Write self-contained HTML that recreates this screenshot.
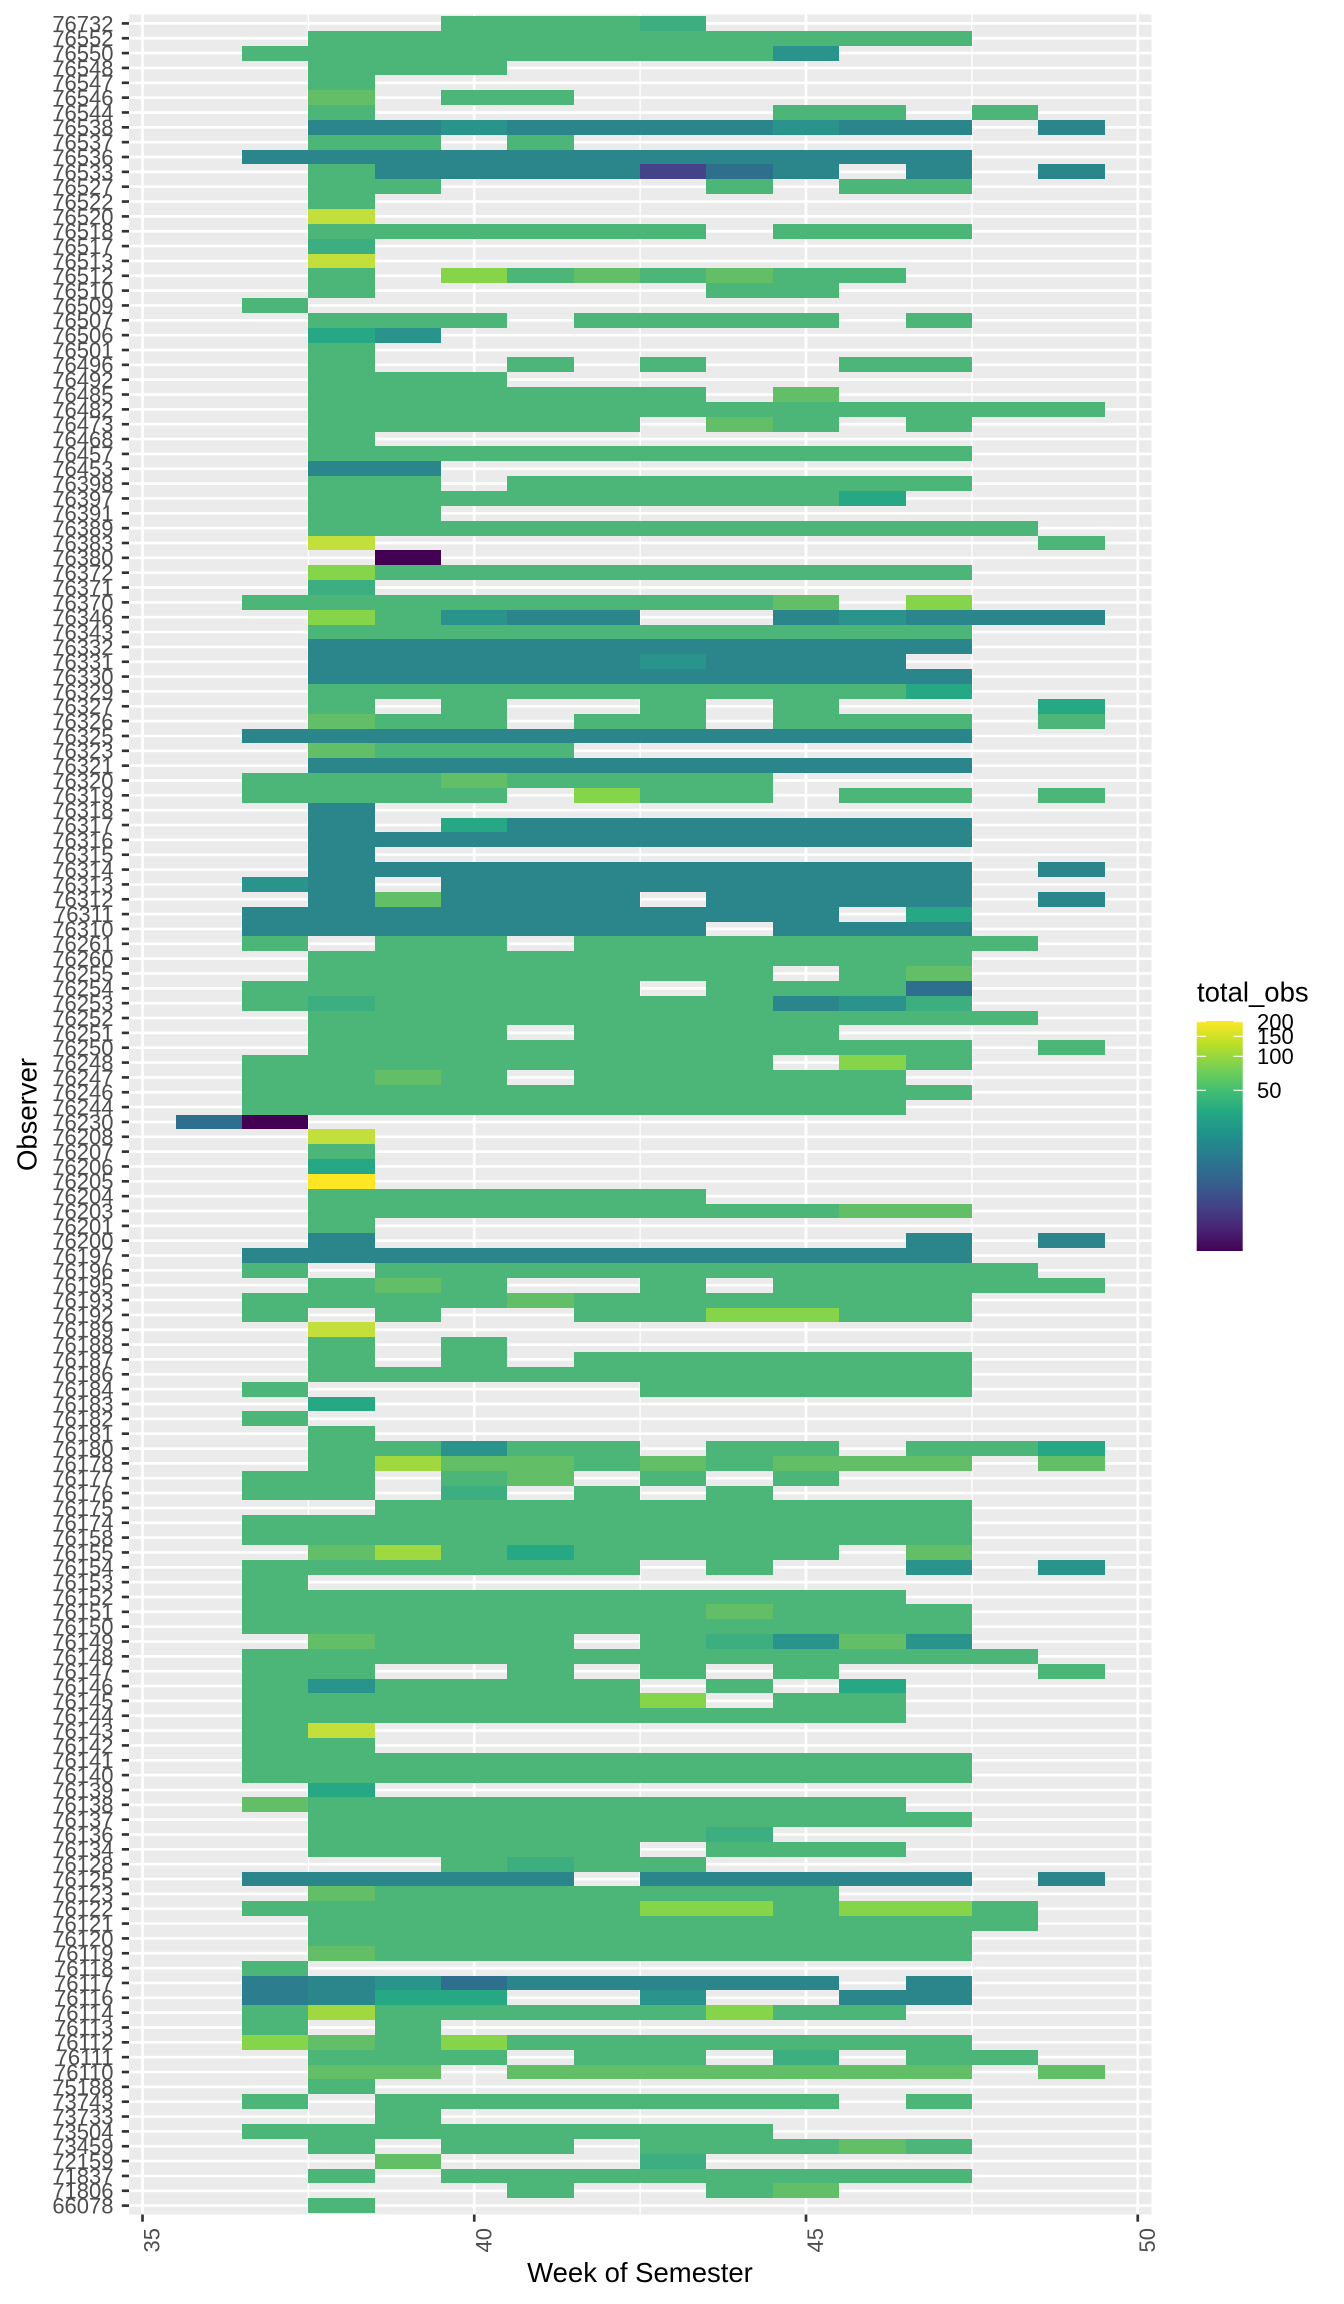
<!DOCTYPE html>
<html>
<head>
<meta charset="utf-8">
<style>
  html, body { margin:0; padding:0; background:#ffffff; }
  body { width:1344px; height:2304px; overflow:hidden; }
  svg { display:block; font-family:"Liberation Sans", Arial, sans-serif; }
</style>
</head>
<body>
<svg id="chart" width="1344" height="2304" viewBox="0 0 1344 2304" xmlns="http://www.w3.org/2000/svg">
  <defs>
    <linearGradient id="vir" x1="0" y1="1" x2="0" y2="0">
      <stop offset="0" stop-color="#440154"/>
      <stop offset="0.1" stop-color="#482576"/>
      <stop offset="0.2" stop-color="#414487"/>
      <stop offset="0.3" stop-color="#35608D"/>
      <stop offset="0.4" stop-color="#2A788E"/>
      <stop offset="0.5" stop-color="#21908C"/>
      <stop offset="0.6" stop-color="#22A884"/>
      <stop offset="0.7" stop-color="#43BF71"/>
      <stop offset="0.8" stop-color="#7AD151"/>
      <stop offset="0.9" stop-color="#BBDF27"/>
      <stop offset="1" stop-color="#FDE725"/>
    </linearGradient>
  </defs>

  <!-- panel background -->
  <rect x="129" y="14.5" width="1022.5" height="2200" fill="#EBEBEB"/>
  <g id="grid"></g>
  <g id="tiles"></g>
  <g id="ticks"></g>

  <!-- y axis labels -->
  <text font-size="22" text-anchor="end" fill="#4D4D4D"><tspan x="113.5" y="31.31">76732</tspan><tspan x="113.5" dy="14.845">76552</tspan><tspan x="113.5" dy="14.845">76550</tspan><tspan x="113.5" dy="14.845">76548</tspan><tspan x="113.5" dy="14.845">76547</tspan><tspan x="113.5" dy="14.845">76546</tspan><tspan x="113.5" dy="14.845">76544</tspan><tspan x="113.5" dy="14.845">76538</tspan><tspan x="113.5" dy="14.845">76537</tspan><tspan x="113.5" dy="14.845">76536</tspan><tspan x="113.5" dy="14.845">76533</tspan><tspan x="113.5" dy="14.845">76527</tspan><tspan x="113.5" dy="14.845">76522</tspan><tspan x="113.5" dy="14.845">76520</tspan><tspan x="113.5" dy="14.845">76518</tspan><tspan x="113.5" dy="14.845">76517</tspan><tspan x="113.5" dy="14.845">76513</tspan><tspan x="113.5" dy="14.845">76512</tspan><tspan x="113.5" dy="14.845">76510</tspan><tspan x="113.5" dy="14.845">76509</tspan><tspan x="113.5" dy="14.845">76507</tspan><tspan x="113.5" dy="14.845">76506</tspan><tspan x="113.5" dy="14.845">76501</tspan><tspan x="113.5" dy="14.845">76496</tspan><tspan x="113.5" dy="14.845">76492</tspan><tspan x="113.5" dy="14.845">76485</tspan><tspan x="113.5" dy="14.845">76482</tspan><tspan x="113.5" dy="14.845">76473</tspan><tspan x="113.5" dy="14.845">76468</tspan><tspan x="113.5" dy="14.845">76457</tspan><tspan x="113.5" dy="14.845">76453</tspan><tspan x="113.5" dy="14.845">76398</tspan><tspan x="113.5" dy="14.845">76397</tspan><tspan x="113.5" dy="14.845">76391</tspan><tspan x="113.5" dy="14.845">76389</tspan><tspan x="113.5" dy="14.845">76383</tspan><tspan x="113.5" dy="14.845">76380</tspan><tspan x="113.5" dy="14.845">76372</tspan><tspan x="113.5" dy="14.845">76371</tspan><tspan x="113.5" dy="14.845">76370</tspan><tspan x="113.5" dy="14.845">76346</tspan><tspan x="113.5" dy="14.845">76343</tspan><tspan x="113.5" dy="14.845">76332</tspan><tspan x="113.5" dy="14.845">76331</tspan><tspan x="113.5" dy="14.845">76330</tspan><tspan x="113.5" dy="14.845">76329</tspan><tspan x="113.5" dy="14.845">76327</tspan><tspan x="113.5" dy="14.845">76326</tspan><tspan x="113.5" dy="14.845">76325</tspan><tspan x="113.5" dy="14.845">76323</tspan><tspan x="113.5" dy="14.845">76321</tspan><tspan x="113.5" dy="14.845">76320</tspan><tspan x="113.5" dy="14.845">76319</tspan><tspan x="113.5" dy="14.845">76318</tspan><tspan x="113.5" dy="14.845">76317</tspan><tspan x="113.5" dy="14.845">76316</tspan><tspan x="113.5" dy="14.845">76315</tspan><tspan x="113.5" dy="14.845">76314</tspan><tspan x="113.5" dy="14.845">76313</tspan><tspan x="113.5" dy="14.845">76312</tspan><tspan x="113.5" dy="14.845">76311</tspan><tspan x="113.5" dy="14.845">76310</tspan><tspan x="113.5" dy="14.845">76261</tspan><tspan x="113.5" dy="14.845">76260</tspan><tspan x="113.5" dy="14.845">76255</tspan><tspan x="113.5" dy="14.845">76254</tspan><tspan x="113.5" dy="14.845">76253</tspan><tspan x="113.5" dy="14.845">76252</tspan><tspan x="113.5" dy="14.845">76251</tspan><tspan x="113.5" dy="14.845">76250</tspan><tspan x="113.5" dy="14.845">76248</tspan><tspan x="113.5" dy="14.845">76247</tspan><tspan x="113.5" dy="14.845">76246</tspan><tspan x="113.5" dy="14.845">76244</tspan><tspan x="113.5" dy="14.845">76230</tspan><tspan x="113.5" dy="14.845">76208</tspan><tspan x="113.5" dy="14.845">76207</tspan><tspan x="113.5" dy="14.845">76206</tspan><tspan x="113.5" dy="14.845">76205</tspan><tspan x="113.5" dy="14.845">76204</tspan><tspan x="113.5" dy="14.845">76203</tspan><tspan x="113.5" dy="14.845">76201</tspan><tspan x="113.5" dy="14.845">76200</tspan><tspan x="113.5" dy="14.845">76197</tspan><tspan x="113.5" dy="14.845">76196</tspan><tspan x="113.5" dy="14.845">76195</tspan><tspan x="113.5" dy="14.845">76193</tspan><tspan x="113.5" dy="14.845">76192</tspan><tspan x="113.5" dy="14.845">76189</tspan><tspan x="113.5" dy="14.845">76188</tspan><tspan x="113.5" dy="14.845">76187</tspan><tspan x="113.5" dy="14.845">76186</tspan><tspan x="113.5" dy="14.845">76184</tspan><tspan x="113.5" dy="14.845">76183</tspan><tspan x="113.5" dy="14.845">76182</tspan><tspan x="113.5" dy="14.845">76181</tspan><tspan x="113.5" dy="14.845">76180</tspan><tspan x="113.5" dy="14.845">76178</tspan><tspan x="113.5" dy="14.845">76177</tspan><tspan x="113.5" dy="14.845">76176</tspan><tspan x="113.5" dy="14.845">76175</tspan><tspan x="113.5" dy="14.845">76174</tspan><tspan x="113.5" dy="14.845">76158</tspan><tspan x="113.5" dy="14.845">76155</tspan><tspan x="113.5" dy="14.845">76154</tspan><tspan x="113.5" dy="14.845">76153</tspan><tspan x="113.5" dy="14.845">76152</tspan><tspan x="113.5" dy="14.845">76151</tspan><tspan x="113.5" dy="14.845">76150</tspan><tspan x="113.5" dy="14.845">76149</tspan><tspan x="113.5" dy="14.845">76148</tspan><tspan x="113.5" dy="14.845">76147</tspan><tspan x="113.5" dy="14.845">76146</tspan><tspan x="113.5" dy="14.845">76145</tspan><tspan x="113.5" dy="14.845">76144</tspan><tspan x="113.5" dy="14.845">76143</tspan><tspan x="113.5" dy="14.845">76142</tspan><tspan x="113.5" dy="14.845">76141</tspan><tspan x="113.5" dy="14.845">76140</tspan><tspan x="113.5" dy="14.845">76139</tspan><tspan x="113.5" dy="14.845">76138</tspan><tspan x="113.5" dy="14.845">76137</tspan><tspan x="113.5" dy="14.845">76136</tspan><tspan x="113.5" dy="14.845">76134</tspan><tspan x="113.5" dy="14.845">76128</tspan><tspan x="113.5" dy="14.845">76125</tspan><tspan x="113.5" dy="14.845">76123</tspan><tspan x="113.5" dy="14.845">76122</tspan><tspan x="113.5" dy="14.845">76121</tspan><tspan x="113.5" dy="14.845">76120</tspan><tspan x="113.5" dy="14.845">76119</tspan><tspan x="113.5" dy="14.845">76118</tspan><tspan x="113.5" dy="14.845">76117</tspan><tspan x="113.5" dy="14.845">76116</tspan><tspan x="113.5" dy="14.845">76114</tspan><tspan x="113.5" dy="14.845">76113</tspan><tspan x="113.5" dy="14.845">76112</tspan><tspan x="113.5" dy="14.845">76111</tspan><tspan x="113.5" dy="14.845">76110</tspan><tspan x="113.5" dy="14.845">75188</tspan><tspan x="113.5" dy="14.845">73743</tspan><tspan x="113.5" dy="14.845">73733</tspan><tspan x="113.5" dy="14.845">73504</tspan><tspan x="113.5" dy="14.845">73459</tspan><tspan x="113.5" dy="14.845">72159</tspan><tspan x="113.5" dy="14.845">71837</tspan><tspan x="113.5" dy="14.845">71806</tspan><tspan x="113.5" dy="14.845">66078</tspan></text>

  <!-- x axis tick labels (rotated) -->
  <g font-size="22" fill="#4D4D4D" text-anchor="end">
    <text transform="translate(159.5,2228) rotate(-90)">35</text>
    <text transform="translate(491.25,2228) rotate(-90)">40</text>
    <text transform="translate(823,2228) rotate(-90)">45</text>
    <text transform="translate(1154.75,2228) rotate(-90)">50</text>
  </g>

  <!-- axis titles -->
  <text x="640" y="2282" font-size="27.5" fill="#000" text-anchor="middle">Week of Semester</text>
  <text transform="translate(36.5,1114.5) rotate(-90)" font-size="27.5" fill="#000" text-anchor="middle">Observer</text>

  <!-- legend -->
  <text x="1197" y="1001.7" font-size="27.5" fill="#000">total_obs</text>
  <rect x="1196.7" y="1021" width="46" height="230" fill="url(#vir)"/>
  <g stroke="#ffffff" stroke-width="1.1">
    <line x1="1196.7" y1="1021.7" x2="1206" y2="1021.7"/>
    <line x1="1233.4" y1="1021.7" x2="1242.7" y2="1021.7"/>
    <line x1="1196.7" y1="1036.3" x2="1206" y2="1036.3"/>
    <line x1="1233.4" y1="1036.3" x2="1242.7" y2="1036.3"/>
    <line x1="1196.7" y1="1056.3" x2="1206" y2="1056.3"/>
    <line x1="1233.4" y1="1056.3" x2="1242.7" y2="1056.3"/>
    <line x1="1196.7" y1="1090.3" x2="1206" y2="1090.3"/>
    <line x1="1233.4" y1="1090.3" x2="1242.7" y2="1090.3"/>
  </g>
  <g font-size="22" fill="#000">
    <text x="1257" y="1029.6">200</text>
    <text x="1257" y="1044.2">150</text>
    <text x="1257" y="1064.2">100</text>
    <text x="1257" y="1098.2">50</text>
  </g>
</svg>

<script>
(function(){
  var NS = "http://www.w3.org/2000/svg";
  var rows = [
"....gggC......",
"..gggggggggg..",
".ggggggggT....",
"..ggg.........",
"..g...........",
"..l.gg........",
"..g......gg.g.",
"..ttTttttTtt.t",
"..gg.g........",
".ttttttttttt..",
"..gttttPbt.t.t",
"..gg....g.gg..",
"..g...........",
"..y...........",
"..gggggg.ggg..",
"..C...........",
"..y...........",
"..g.Lglglgg...",
"..g.....gg....",
".g............",
"..ggg.gggg.g..",
"..cT..........",
"..g...........",
"..g..g.g..gg..",
"..ggg.........",
"..gggggg.l....",
"..gggggggggggg",
"..ggggg.lg.g..",
"..g...........",
"..gggggggggg..",
"..tt..........",
"..gg.ggggggg..",
"..ggggggggc...",
"..gg..........",
"..ggggggggggg.",
"..y..........g",
"...p..........",
"..Lggggggggg..",
"..C...........",
".ggggggggl.L..",
"..LgTtt..tTttt",
"..gggggggggg..",
"..tttttttttt..",
"..tttttTttt...",
"..tttttttttt..",
"..gggggggggc..",
"..g.g..g.g...c",
"..lgg.gg.ggg.g",
".ttttttttttt..",
"..lggg........",
"..tttttttttt..",
".ggglgggg.....",
".gggg.Lgg.gg.g",
"..t...........",
"..t.cttttttt..",
"..tttttttttt..",
"..t...........",
"..tttttttttt.t",
".Tt.tttttttt..",
"..tlttt.tttt.t",
".ttttttttt.c..",
".ttttttt.ttt..",
".g.gg.ggggggg.",
"..gggggggggg..",
"..ggggggg.gl..",
".gggggg.gggb..",
".gCggggggtTC..",
"..ggggggggggg.",
"..ggg.gggg....",
"..gggggggggg.g",
".gggggggg.Lg..",
".gglg.ggggg...",
".ggggggggggg..",
".gggggggggg...",
"bp............",
"..y...........",
"..g...........",
"..c...........",
"..Y...........",
"..gggggg......",
"..ggggggggll..",
"..g...........",
"..t........t.t",
".ttttttttttt..",
".g.gggggggggg.",
"..glg..g.ggggg",
".gggglgggggg..",
".g.g..ggLLgg..",
"..y...........",
"..g.g.........",
"..g.g.gggggg..",
"..gggggggggg..",
".g.....ggggg..",
"..c...........",
".g............",
"..g...........",
"..ggTgg.gg.ggc",
"..gallglglll.l",
".gg.gl.g.g....",
".gg.C.g.g.....",
"...ggggggggg..",
".ggggggggggg..",
".ggggggggggg..",
"..lagcgggg.l..",
".gggggg.g..T.T",
".g............",
".gggggggggg...",
".ggggggglggg..",
".ggggggggggg..",
"..lggg.gCTlT..",
".gggggggggggg.",
".gg..g.g.g...g",
".gTgggg.g.c...",
".ggggggL.gg...",
".gggggggggg...",
".gy...........",
".gg...........",
".ggggggggggg..",
".ggggggggggg..",
"..c...........",
".lggggggggg...",
"..gggggggggg..",
"..ggggggC.....",
"..ggggg.ggg...",
"....gCgg......",
".ttttt.ttttt.t",
"..lggggggg....",
".ggggggLLgLLg.",
"..ggggggggggg.",
"..gggggggggg..",
"..lggggggggg..",
".g............",
".utTbttttt.t..",
".utcc..T..tt..",
".gagggggLgg...",
".g.g..........",
".LlgLggggggg..",
"..ggg.gg.C.gg.",
"..ll.lllllll.l",
"..g...........",
".g.ggggggg.g..",
"...g..........",
".gggggggg.....",
"..g.gg.ggglg..",
"...l...C......",
"..g.gggggggg..",
".....g..gl....",
"..g..........."
  ];
  var col = {
    g:'#4BB677', l:'#62BF67', L:'#86D44A', a:'#A0D93F', y:'#C2DF3C', Y:'#FDE725',
    c:'#26A884', C:'#3DAE7F', t:'#2B868C', T:'#2A938B', u:'#2C7E8E', b:'#2E6F8E',
    p:'#440154', P:'#46428A'
  };
  var pxWeek = 66.35, x35 = 142.5;
  var rowH = 14.845, firstC = 23.41;
  var panelL = 129, panelR = 1151.5, panelT = 14.5, panelB = 2214.5;

  var grid = document.getElementById('grid');
  var tiles = document.getElementById('tiles');
  var ticks = document.getElementById('ticks');

  function line(parent, x1, y1, x2, y2, stroke, w){
    var l = document.createElementNS(NS, 'line');
    l.setAttribute('x1', x1); l.setAttribute('y1', y1);
    l.setAttribute('x2', x2); l.setAttribute('y2', y2);
    l.setAttribute('stroke', stroke); l.setAttribute('stroke-width', w);
    parent.appendChild(l);
  }

  [37.5, 42.5, 47.5].forEach(function(w){
    var x = x35 + (w - 35) * pxWeek;
    line(grid, x, panelT, x, panelB, '#ffffff', 1.33);
  });
  [35, 40, 45, 50].forEach(function(w){
    var x = x35 + (w - 35) * pxWeek;
    line(grid, x, panelT, x, panelB, '#ffffff', 2.67);
    line(ticks, x, panelB, x, panelB + 7.2, '#333333', 2.67);
  });
  for (var i = 0; i < rows.length; i++){
    var yc = firstC + i * rowH;
    line(grid, panelL, yc, panelR, yc, '#ffffff', 2.67);
    line(ticks, panelL - 7.2, yc, panelL, yc, '#333333', 2.67);
  }
  function xEdge(wk){ return Math.round(x35 + (wk - 35.5) * pxWeek); }
  function yEdge(r){ return Math.round(firstC + r * rowH - rowH / 2); }
  for (var r = 0; r < rows.length; r++){
    var s = rows[r];
    var top = yEdge(r), bot = yEdge(r + 1);
    var j = 0;
    while (j < s.length){
      var ch = s[j];
      if (ch === '.'){ j++; continue; }
      var k = j;
      while (k + 1 < s.length && s[k + 1] === ch) k++;
      var left = xEdge(36 + j), right = xEdge(36 + k + 1);
      var rect = document.createElementNS(NS, 'rect');
      rect.setAttribute('x', left);
      rect.setAttribute('y', top);
      rect.setAttribute('width', right - left);
      rect.setAttribute('height', bot - top);
      rect.setAttribute('fill', col[ch]);
      rect.setAttribute('shape-rendering', 'crispEdges');
      tiles.appendChild(rect);
      j = k + 1;
    }
  }
})();
</script>
</body>
</html>
